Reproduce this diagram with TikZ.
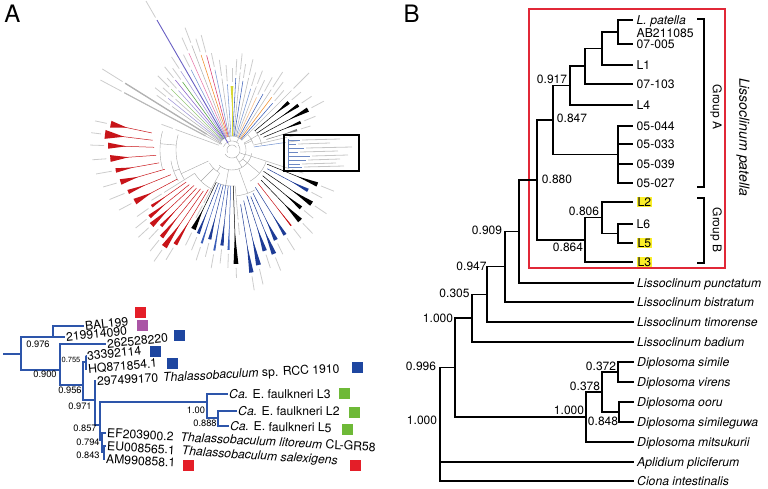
\documentclass[tikz,border=0pt]{standalone}
\usepackage{fontspec}
\setmainfont{TeX Gyre Heros}
\usetikzlibrary{calc}
\definecolor{tblue}{RGB}{45,85,170}
\definecolor{sqred}{RGB}{228,30,40}
\definecolor{sqpur}{RGB}{170,85,165}
\definecolor{sqblue}{RGB}{30,70,160}
\definecolor{sqgreen}{RGB}{110,185,55}
\definecolor{boxred}{RGB}{225,40,55}
\definecolor{hl}{RGB}{250,238,40}
\definecolor{lpurple}{RGB}{160,150,215}
\definecolor{mpurple}{RGB}{105,95,195}
\definecolor{purp}{RGB}{135,95,200}
\definecolor{lgreen}{RGB}{150,200,120}
\definecolor{dgreen}{RGB}{80,160,60}
\definecolor{lpink}{RGB}{230,120,170}
\definecolor{mpink}{RGB}{215,60,110}
\definecolor{orng}{RGB}{240,140,40}
\definecolor{lorng}{RGB}{245,185,130}
\definecolor{ylw}{RGB}{215,215,50}
\definecolor{lblue}{RGB}{120,150,210}
\definecolor{mblue}{RGB}{60,95,185}
\definecolor{navy}{RGB}{30,60,150}
\definecolor{fred}{RGB}{200,20,25}
\begin{document}
\begin{tikzpicture}[x=1pt,y=-1pt,
  eA/.style={draw=tblue, line width=1.2pt},
  eB/.style={draw=black, line width=1.4pt},
  al/.style={anchor=west, inner xsep=0pt, inner ysep=0pt, font=\fontsize{12.2}{12.2}\selectfont, text height=8.8pt, text depth=0pt},
  av/.style={inner sep=0pt, font=\fontsize{9.3}{9.3}\selectfont},
  sq/.style={minimum size=11pt, inner sep=0pt},
  bl/.style={anchor=west, inner xsep=0pt, inner ysep=0.5pt, font=\fontsize{12.2}{12.2}\selectfont, text height=8.7pt, text depth=0pt},
  hlt/.style={fill=hl, inner xsep=1pt},
  bv/.style={inner sep=0pt, font=\fontsize{12}{12}\selectfont},
  panel/.style={inner sep=0pt, font=\fontsize{24}{24}\selectfont},
  tr/.style={draw=gray!70, line width=0.4pt},
  lab/.style={draw=gray!40, line width=0.8pt}
]
\useasboundingbox (0,0) rectangle (768,488);

% ---------------- panel letters
\node[panel] (pA) at (12.5,14) {A};
\node[panel] (pB) at (411.5,14) {B};

% ---------------- panel A: circular overview tree
\begin{scope}[shift={(232,150)}]
  \foreach \rr/\s/\e in {5/150/330, 9/200/320, 14/205/316, 8/-40/150, 14/-30/60, 20/10/130, 36/86/118, 36/18/60, 46/60/84, 30/318/350, 44/118/148, 56/148/196, 62/150/170, 72/165/195, 26/120/150, 22/315/345}
    \draw[tr] plot[domain=\s:\e, samples=14, variable=\t] (\t:\rr);
  \foreach \ang/\ra/\rb in {240/5/9, 260/9/14, 300/9/14, 20/8/14, 60/8/20, 100/20/36, 40/14/36, 70/20/46, 125/20/26, 135/26/44, 155/26/56, 160/56/62, 185/56/72, 330/14/30, 335/14/22}
    \draw[tr] (\ang:\ra) -- (\ang:\rb);
  % plain spokes
  \foreach \ang/\ra/\rb/\col/\len in {212/12/126/gray!65/24, 208/12/122/gray!55/24,
      216/14/74/gray!60/16, 219/14/82/lpurple/14, 222/14/76/gray!55/14, 225/14/86/lgreen/16,
      228/14/80/lpurple/14, 231/14/90/purp/14, 234/14/84/dgreen/14, 237/14/94/lpurple/14,
      243/14/90/lblue/14, 246/14/106/lpink/14, 249/14/112/gray!60/16, 252/14/100/orng/14,
      255/14/98/mpink/18, 258/14/82/lblue/14, 262/14/72/gray!55/16, 266/14/66/lblue/16,
      273/14/72/mblue/16, 276/14/78/gray!60/16, 279/14/70/mblue/14, 283/14/74/gray!55/16,
      287/14/64/lblue/14, 291/14/68/gray!55/14, 295/14/58/lorng/16, 299/14/64/mblue/16,
      303/14/72/gray!55/18, 307/14/66/orng/16, 311/14/62/mblue/14, 315/14/84/gray!50/22,
      347/22/56/gray!55/10, 352/22/54/lblue/10, 18/14/60/gray!55/12, 85/36/70/gray!55/12,
      118/26/60/gray!55/14, 148/44/80/gray!55/12, 200/14/60/gray!55/12}
  {
    \draw[\col, line width=0.55pt] (\ang:\ra) -- (\ang:\rb);
    \draw[lab] (\ang:{\rb+3}) -- (\ang:{\rb+3+\len});
  }
  \draw[mpurple, line width=0.9pt] (240:8) -- (240:150);
  \draw[lab] (240:153) -- (240:172);
  \draw[gray!60, line width=1.3pt] (212:30) -- (212:126);
  \draw[gray!55, line width=1.1pt] (208:30) -- (208:122);
  % collapsed clades
  \foreach \ang/\ra/\rb/\hw/\col/\len in {270/14/64/1.2/ylw/14,
      320/30/74/1.4/black/12, 326/30/80/1.2/black/12, 332/32/86/1.5/black/14, 338/34/74/1.2/black/12, 343/36/68/1/gray/10,
      22/38/92/1.4/black/14, 28/40/86/1.2/navy/12, 34/38/96/1.5/black/14, 40/40/90/1.2/black/12,
      46/42/98/1.5/black/14, 52/42/96/0.4/fred/12, 58/44/100/1/navy/14,
      64/48/100/1.2/navy/12, 68/50/112/1.2/navy/14, 72/48/106/1.2/navy/14, 77/52/118/1.2/navy/16, 81/55/124/1/navy/14,
      88/36/114/1.2/black/10, 92/36/100/0.6/mblue/14, 96/36/96/1/navy/14, 100/36/102/0.6/mblue/14,
      104/36/92/1/navy/14, 108/36/98/0.6/mblue/14, 112/36/90/1/navy/14, 116/36/88/1.6/black/14,
      121/46/110/1.1/fred/14, 125/50/118/1.4/fred/14, 129/50/112/1.1/fred/14, 133/52/104/0.9/fred/14,
      137/52/110/1.4/fred/14, 141/55/106/1.1/fred/14, 145/56/98/0.9/fred/14,
      152/62/110/1.6/fred/14, 158/66/112/1.1/fred/16, 164/70/116/1.4/fred/14, 170/74/118/1.1/fred/16,
      176/76/122/1.6/fred/14, 182/78/124/1.4/fred/14, 187/80/128/2/fred/10, 192/82/124/1.6/fred/12}
  {
    \draw[\col, line width=0.5pt] (\ang:\ra) -- (\ang:\rb);
    \fill[\col] (\ang:{\ra+0.6*(\rb-\ra)}) -- ({\ang-\hw}:\rb) -- ({\ang+\hw}:\rb) -- cycle;
    \draw[lab] (\ang:{\rb+4}) -- (\ang:{\rb+4+\len});
  }
\end{scope}
% detail inside the boxed clade
\draw[tblue!70, line width=0.5pt] (288,139) -- (288,167);
\foreach \yy/\xe/\xl in {140/300/340, 144/296/330, 148/304/352, 152/298/338, 156/310/348, 160/306/340, 164/300/336, 167/302/344}
{
  \draw[tblue!70, line width=0.5pt] (288,\yy) -- (\xe,\yy);
  \draw[draw=gray!45, line width=0.8pt] (\xe+2,\yy) -- (\xl,\yy-1);
}
\draw[line width=1.6pt] (284,135) rectangle (359,171);

% ---------------- panel A: zoomed subtree
\coordinate (r0) at (3,354);
\coordinate (RA) at (21,354);
\coordinate (a1) at (53,337);
\coordinate (a2) at (60,370);
\coordinate (a3) at (83,385);
\coordinate (a755) at (86,362);
\coordinate (a4) at (95,400);
\coordinate (a5) at (100,425);
\coordinate (ca) at (207,402);
\coordinate (ca2) at (218,418);
\coordinate (a6) at (102,440);
\coordinate (a7) at (104,452);

\node[al, rotate=6] (bal) at (85,326) {BAL199};
\node[al, rotate=6] (s219) at (66,337) {219914090};
\node[al, rotate=6] (s262) at (107,344) {262528220};
\node[al, rotate=6] (s333) at (87,356) {33392114};
\node[al, rotate=5] (hq) at (88,369) {HQ871854.1};
\node[al, rotate=3] (s297) at (97,381) {297499170\hspace{5pt}\textit{Thalassobaculum} sp. RCC 1910};
\node[al] (caL3) at (229,394) {\textit{Ca.} E. faulkneri L3};
\node[al] (caL2) at (238,411) {\textit{Ca.} E. faulkneri L2};
\node[al, rotate=-1] (caL5) at (230,426) {\textit{Ca.} E. faulkneri L5};
\node[al, rotate=-3] (ef) at (107,433) {EF203900.2\hspace{7pt}\textit{Thalassobaculum litoreum} CL-GR58};
\node[al, rotate=-3.5] (eu) at (107,446) {EU008565.1\hspace{7pt}\textit{Thalassobaculum salexigens}};
\node[al, rotate=-3] (am) at (106,459) {AM990858.1};

\draw[eA] (r0) -- (RA);
\foreach \p/\c in {RA/a1, RA/a2, a2/a3, a3/a755, a3/a4, a4/a5, a5/ca, ca/ca2, a5/a6, a6/a7}
  \draw[eA] (\p) |- (\c);
\foreach \p/\c in {a1/bal, a1/s219, a2/s262, a755/s333, a755/hq, a4/s297, ca/caL3, ca2/caL2, ca2/caL5, a6/ef, a7/eu, a7/am}
  \draw[eA] (\p) |- ([xshift=-1.5pt]\c.west);

\node[av] (v976) at (38,344) {0.976};
\node[av] (v900) at (45,374) {0.900};
\node[inner sep=0pt, font=\fontsize{7.5}{7.5}\selectfont] (v755) at (71,360) {0.755};
\node[av] (v956) at (70,390) {0.956};
\node[av] (v971) at (80,406) {0.971};
\node[av] (v857) at (85,428) {0.857};
\node[av] (v100a) at (196,410) {1.00};
\node[av] (v888) at (205,423) {0.888};
\node[av] (v794) at (88,442) {0.794};
\node[av] (v843) at (88,455) {0.843};

\node[sq, fill=sqred] (qbal) at (140.5,312) {};
\node[sq, fill=sqpur] (q219) at (142.5,325) {};
\node[sq, fill=sqblue] (q262) at (179,335) {};
\node[sq, fill=sqblue] (q333) at (155,351) {};
\node[sq, fill=sqblue] (qhq) at (172.5,363.5) {};
\node[sq, fill=sqblue] (qrcc) at (357.5,367) {};
\node[sq, fill=sqgreen] (qL3) at (344,393.5) {};
\node[sq, fill=sqgreen] (qL2) at (354.5,412) {};
\node[sq, fill=sqgreen] (qL5) at (347.5,429.5) {};
\node[sq, fill=sqred] (qsal) at (355.5,465) {};
\node[sq, fill=sqred] (qam) at (188.5,465.5) {};

% ---------------- panel B
\draw[boxred, line width=1.3pt] (529,9) rectangle (725,268);

\coordinate (n1) at (618,32);
\coordinate (n2) at (602,48.5);
\coordinate (n3) at (585,66);
\coordinate (n4) at (570,85.5);
\coordinate (n5) at (618,154.5);
\coordinate (n6) at (553,120);
\coordinate (n7) at (618,233.5);
\coordinate (n8) at (602,217.75);
\coordinate (n9) at (585,240);
\coordinate (n10) at (537,180);
\coordinate (n11) at (519,231.5);
\coordinate (n12) at (505,266.75);
\coordinate (n13) at (487,294.4);
\coordinate (n14) at (472,318);
\coordinate (d1) at (618,372);
\coordinate (d2) at (619,412);
\coordinate (d3) at (602,392);
\coordinate (d4) at (586,417);
\coordinate (n15) at (455,367.5);
\coordinate (rootB) at (440,424);

\node[bl] (lpat) at (636.5,20) {\textit{L. patella}};
\node[bl] (ab) at (636.5,33) {AB211085};
\node[bl] (l005) at (636.5,44) {07-005};
\node[bl] (lL1) at (636.5,65) {L1};
\node[bl] (l103) at (636.5,84) {07-103};
\node[bl] (lL4) at (636.5,105) {L4};
\node[bl] (l044) at (636.5,126) {05-044};
\node[bl] (l033) at (636.5,144) {05-033};
\node[bl] (l039) at (636.5,164) {05-039};
\node[bl] (l027) at (636.5,183) {05-027};
\node[bl, hlt] (lL2) at (636.5,202) {L2};
\node[bl] (lL6) at (636.5,224) {L6};
\node[bl, hlt] (lL5) at (636.5,243) {L5};
\node[bl, hlt] (lL3) at (636.5,262) {L3};
\node[bl] (lpun) at (637,283) {\textit{Lissoclinum punctatum}};
\node[bl] (lbis) at (637,302) {\textit{Lissoclinum bistratum}};
\node[bl] (ltim) at (637,322) {\textit{Lissoclinum timorense}};
\node[bl] (lbad) at (637,342) {\textit{Lissoclinum badium}};
\node[bl] (dsim) at (637,362) {\textit{Diplosoma simile}};
\node[bl] (dvir) at (637,382) {\textit{Diplosoma virens}};
\node[bl] (door) at (637,402) {\textit{Diplosoma ooru}};
\node[bl] (dslg) at (637,422) {\textit{Diplosoma simileguwa}};
\node[bl] (dmit) at (637,442) {\textit{Diplosoma mitsukurii}};
\node[bl] (apl) at (637,462) {\textit{Aplidium pliciferum}};
\node[bl] (cio) at (637,481) {\textit{Ciona intestinalis}};

\foreach \p/\c in {n2/n1, n3/n2, n4/n3, n6/n4, n6/n5, n8/n7, n9/n8, n10/n6, n10/n9, n11/n10, n12/n11, n13/n12, n14/n13, n15/n14, n15/d4, d3/d1, d3/d2, d4/d3, rootB/n15}
  \draw[eB] (\p) |- (\c);
\foreach \p/\c in {n1/lpat, n1/l005, n2/lL1, n3/l103, n4/lL4, n5/l044, n5/l033, n5/l039, n5/l027,
    n7/lL6, n7/lL5, n8/lL2, n9/lL3, n11/lpun, n12/lbis, n13/ltim, n14/lbad,
    d1/dsim, d1/dvir, d2/door, d2/dslg, d4/dmit, rootB/apl, rootB/cio}
  \draw[eB] (\p) |- ([xshift=-3.5pt]\c.west);

\node[bv] (b917) at (552,79) {0.917};
\node[bv] (b847) at (572,118) {0.847};
\node[bv] (b880) at (557,179) {0.880};
\node[bv] (b806) at (584,211) {0.806};
\node[bv] (b864) at (568,247) {0.864};
\node[bv] (b909) at (487,230) {0.909};
\node[bv] (b947) at (471.5,266) {0.947};
\node[bv] (b305) at (454.5,293) {0.305};
\node[bv] (b100a) at (438,318) {1.000};
\node[bv] (b996) at (421,366) {0.996};
\node[bv] (b100r) at (422,420) {1.000};
\node[bv] (b372) at (601,366) {0.372};
\node[bv] (b378) at (585,386) {0.378};
\node[bv] (b100d) at (569,410) {1.000};
\node[bv] (b848) at (603,421) {0.848};

\draw[line width=1.4pt] (697,19) -| (704,187) -- (697,187);
\draw[line width=1.4pt] (697,198) -| (704,263) -- (697,263);
\node[inner sep=0pt, rotate=-90, font=\fontsize{12}{12}\selectfont] (gA) at (716,107) {Group A};
\node[inner sep=0pt, rotate=-90, font=\fontsize{12}{12}\selectfont] (gB) at (716,230) {Group B};
\node[inner sep=0pt, rotate=-90, font=\fontsize{14}{14}\selectfont\itshape] (lp) at (743,137) {Lissoclinum patella};
\end{tikzpicture}
\end{document}
